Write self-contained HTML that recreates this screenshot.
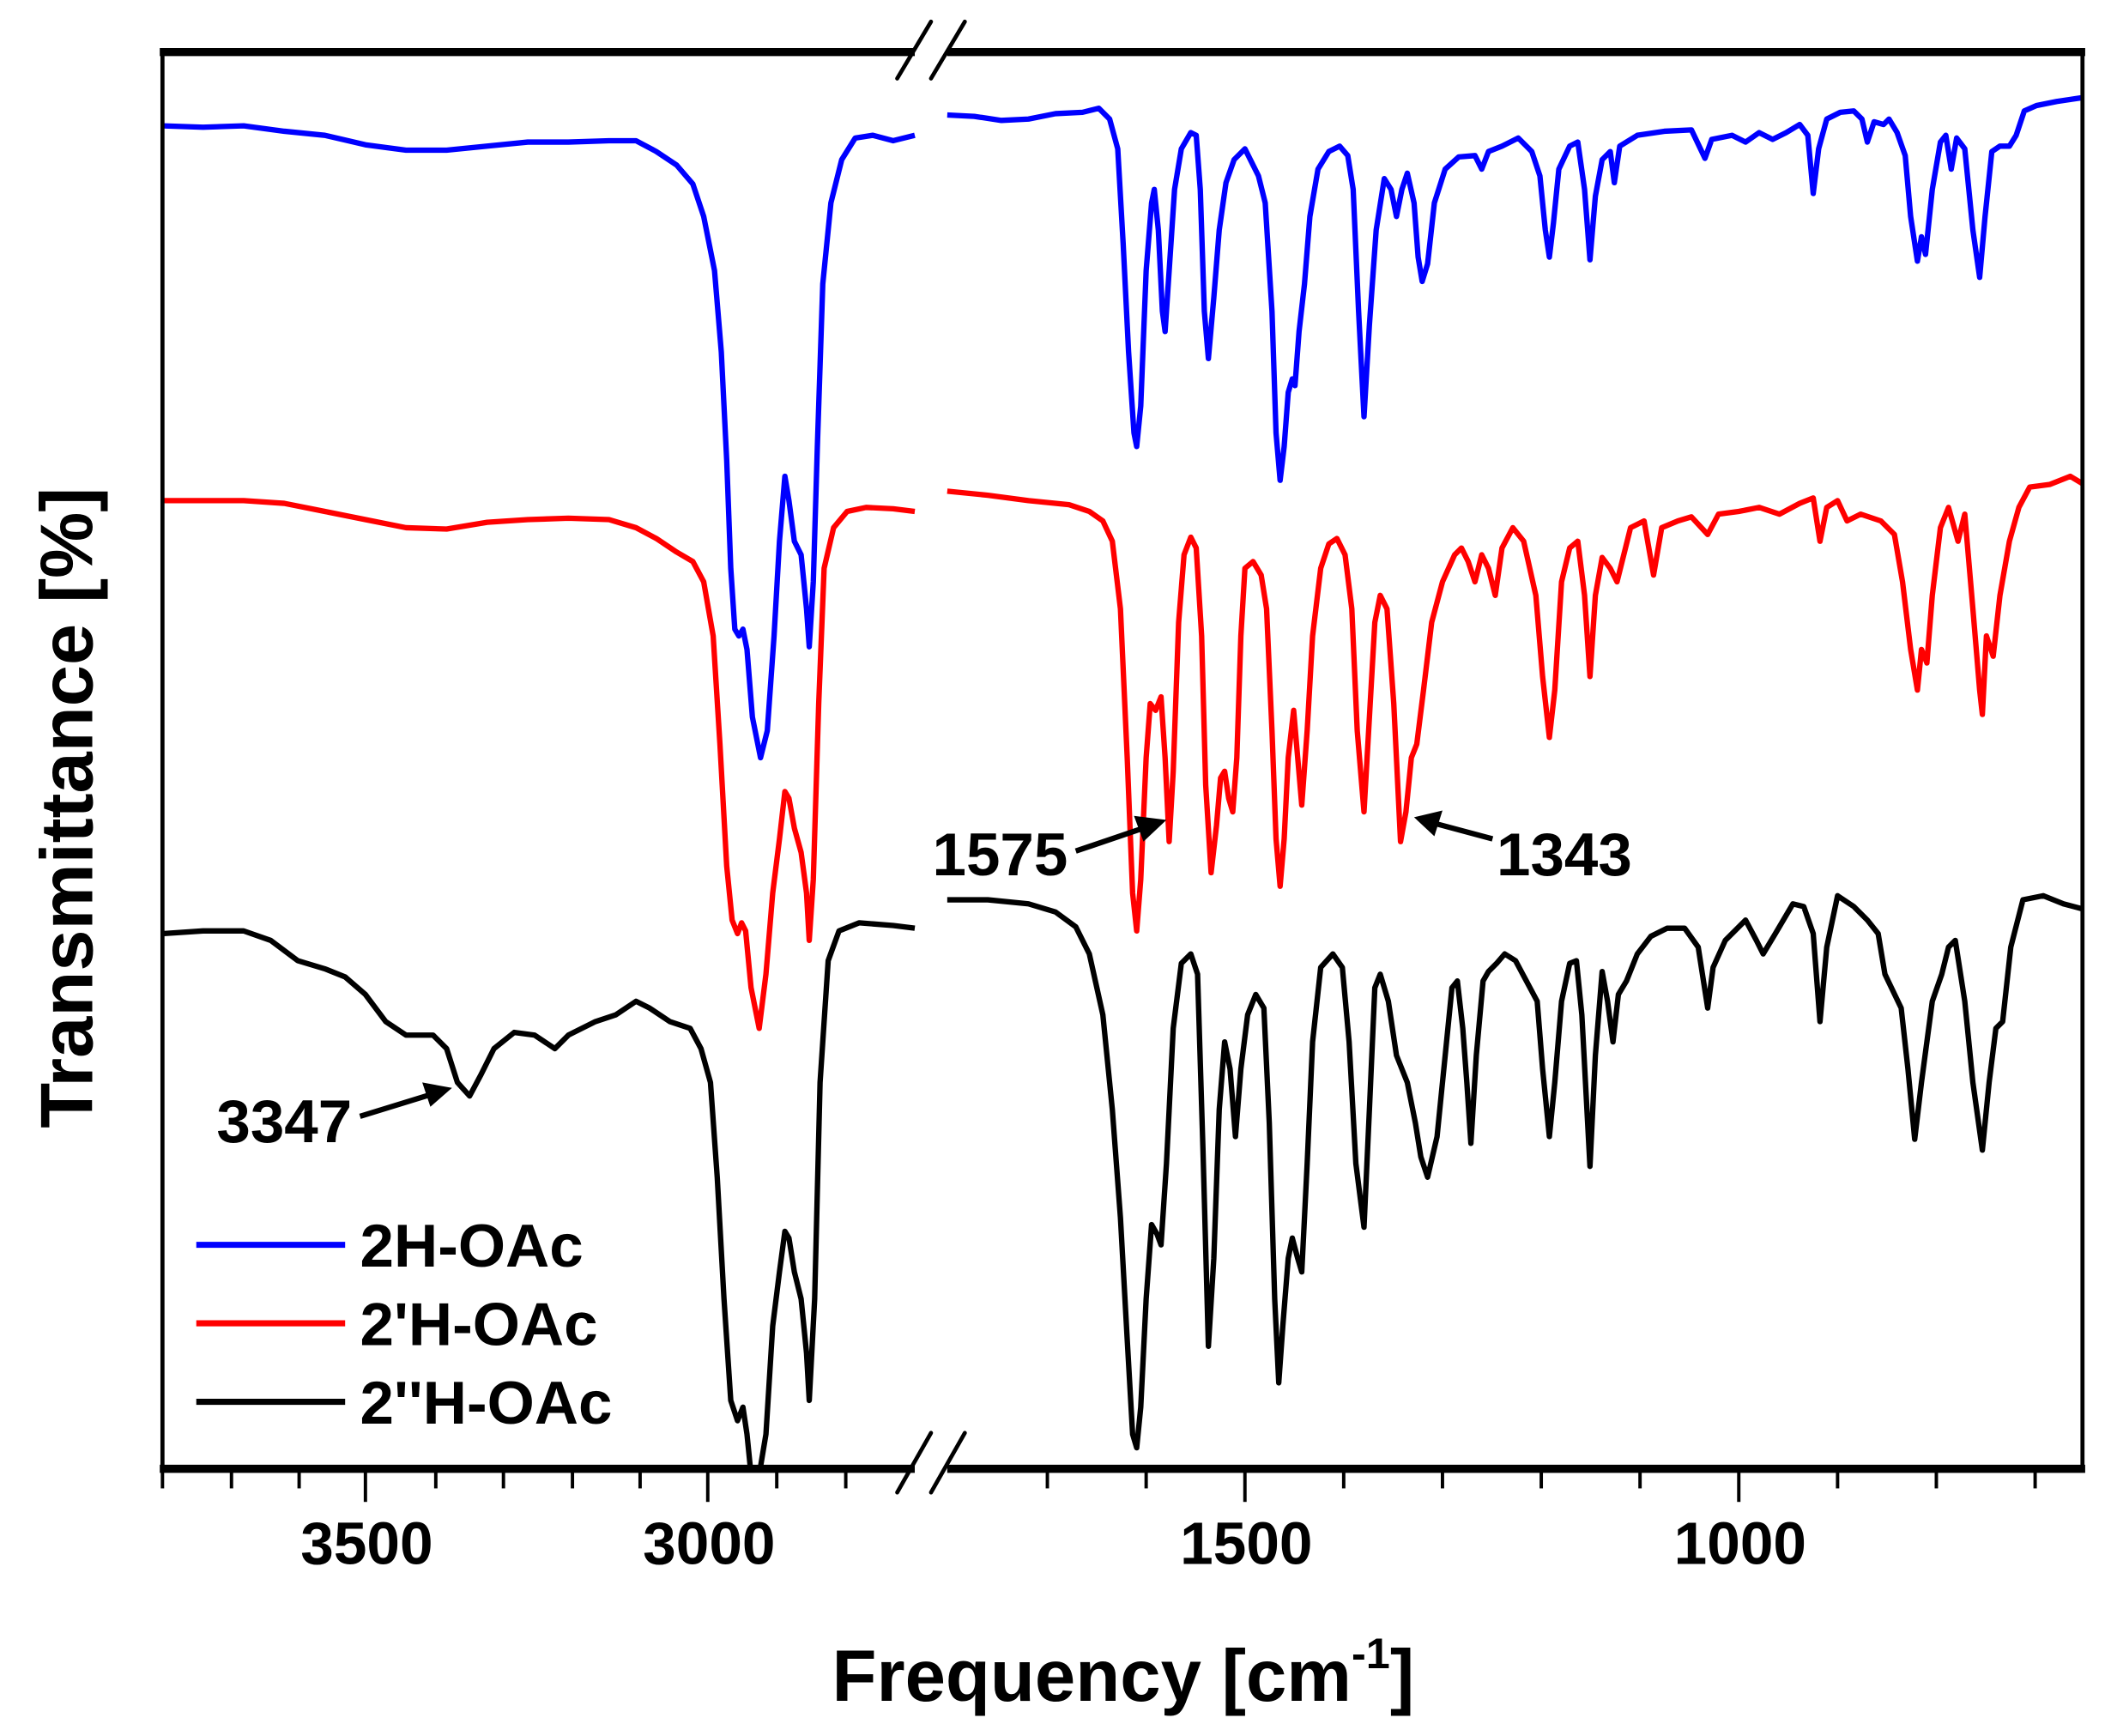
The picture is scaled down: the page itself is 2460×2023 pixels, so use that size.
<!DOCTYPE html>
<html><head><style>
html,body{margin:0;padding:0;background:#fff;}
svg{display:block;}
text{font-family:"Liberation Sans",Arial,sans-serif;font-weight:bold;fill:#000;}
</style></head><body>
<svg width="2460" height="2023" viewBox="0 0 1560 1283" xmlns="http://www.w3.org/2000/svg">
<defs><clipPath id="c"><rect x="120" y="37" width="1420" height="1050"/></clipPath></defs>
<g clip-path="url(#c)" fill="none" stroke-width="4" stroke-linejoin="round">
<polyline stroke="#0000ff" points="120,93 150,94 180,93 210,97 240,100 270,107 300,111 330,111 360,108 390,105 420,105 450,104 470,104 485,112 500,122 512,136 520,160 528,200 533,260 537,340 540,420 543,465 546,470 549,465 552,480 556,530 562,560 567,540 572,470 576,400 580,352 583,370 587,400 592,410 596,450 598,478 601,430 604,330 608,210 614,150 622,118 632,102 645,100 660,104 676,100"/>
<polyline stroke="#0000ff" points="700,85 720,86 740,89 760,88 780,84 800,83 812,80 820,88 826,110 830,180 834,260 838,320 840,330 843,300 847,200 851,150 853,140 856,170 859,230 861,245 864,200 868,140 873,110 880,98 884,100 887,140 890,230 893,265 897,220 901,170 906,135 912,118 920,110 925,120 930,130 935,150 940,230 943,320 946,355 949,330 952,290 955,280 957,285 960,245 964,210 968,160 974,125 982,112 990,108 996,115 1000,140 1004,230 1008,308 1012,240 1017,170 1023,132 1028,140 1032,160 1036,140 1040,128 1045,150 1048,190 1051,208 1055,195 1060,150 1068,125 1078,116 1090,115 1095,125 1100,112 1110,108 1122,102 1132,112 1138,130 1142,170 1145,190 1148,165 1152,125 1160,108 1166,105 1171,140 1175,192 1179,145 1184,118 1190,112 1193,135 1197,108 1210,100 1230,97 1250,96 1260,117 1265,103 1280,100 1290,105 1300,98 1310,103 1320,98 1330,92 1336,100 1340,143 1344,110 1350,88 1360,83 1370,82 1376,88 1380,105 1385,90 1392,92 1396,88 1402,98 1408,115 1412,160 1417,193 1420,175 1423,188 1428,140 1434,105 1438,100 1442,125 1446,102 1452,110 1458,170 1463,205 1467,160 1472,112 1478,108 1485,108 1490,100 1496,82 1505,78 1520,75 1540,72"/>
<polyline stroke="#ff0000" points="120,370 150,370 180,370 210,372 240,378 270,384 300,390 330,391 360,386 390,384 420,383 450,384 470,390 485,398 500,408 512,415 520,430 527,470 532,550 537,640 541,680 545,690 548,682 551,688 555,730 561,760 566,720 571,660 576,620 580,585 583,590 587,612 592,630 596,660 598,695 601,650 605,520 609,420 616,390 626,378 640,375 660,376 676,378"/>
<polyline stroke="#ff0000" points="700,363 730,366 760,370 790,373 805,378 815,385 822,400 828,450 833,560 837,660 840,688 843,650 847,560 850,520 854,525 858,515 861,560 864,622 867,570 871,460 875,410 880,397 884,405 888,470 891,580 895,645 899,610 902,575 905,570 908,590 911,600 914,560 917,470 920,420 926,415 932,425 936,450 940,540 943,620 946,655 949,620 952,560 956,525 959,560 962,595 966,540 970,470 976,420 982,402 988,398 994,410 999,450 1003,540 1008,600 1012,530 1016,460 1020,440 1025,450 1030,520 1035,622 1039,600 1043,560 1047,550 1052,510 1058,460 1066,430 1075,410 1080,405 1085,415 1090,430 1095,410 1100,420 1105,440 1110,405 1118,390 1126,400 1135,440 1140,500 1145,545 1149,510 1154,430 1160,405 1166,400 1171,440 1175,500 1179,440 1184,412 1190,420 1195,430 1205,390 1215,385 1222,425 1228,390 1240,385 1250,382 1262,395 1270,380 1285,378 1300,375 1315,380 1330,372 1340,368 1345,400 1350,375 1358,370 1365,385 1375,380 1390,385 1400,395 1406,430 1412,480 1417,510 1420,480 1424,490 1428,440 1434,390 1440,375 1447,400 1452,380 1458,450 1463,510 1465,528 1468,470 1473,485 1478,440 1485,400 1492,375 1500,360 1515,358 1530,352 1540,358"/>
<polyline stroke="#000" points="120,690 150,688 180,688 200,695 220,710 240,716 255,722 270,735 285,755 300,765 320,765 330,775 338,800 347,810 355,795 365,775 380,763 395,765 410,775 420,765 440,755 455,750 470,740 480,745 495,755 510,760 518,775 525,800 530,870 535,960 540,1035 545,1050 549,1040 552,1060 556,1100 561,1090 566,1060 571,980 576,940 580,910 583,915 587,940 592,960 596,1000 598,1035 602,960 606,800 612,710 620,688 635,682 660,684 676,686"/>
<polyline stroke="#000" points="700,665 730,665 760,668 780,674 795,685 805,705 815,750 822,820 828,900 833,990 837,1060 840,1070 843,1040 847,960 851,905 855,912 858,920 862,860 867,760 873,712 880,705 885,720 889,850 893,995 897,930 901,820 905,770 909,790 913,840 917,790 922,750 928,735 934,745 938,830 942,960 945,1022 948,980 952,930 955,915 959,930 962,940 966,860 970,770 976,715 985,705 992,715 997,770 1002,860 1008,907 1012,820 1016,730 1020,720 1026,740 1032,780 1040,800 1046,830 1050,855 1055,870 1062,840 1068,780 1073,730 1077,725 1081,760 1084,800 1087,845 1091,780 1096,725 1100,718 1106,712 1112,705 1120,710 1128,725 1136,740 1140,790 1145,840 1149,800 1154,740 1160,712 1165,710 1169,750 1175,862 1179,780 1184,718 1188,740 1192,770 1196,735 1202,725 1210,705 1220,692 1232,686 1245,686 1255,700 1262,745 1266,715 1275,695 1290,680 1298,695 1303,705 1312,690 1325,668 1333,670 1340,690 1345,755 1350,700 1358,662 1370,670 1380,680 1388,690 1393,720 1405,745 1410,790 1415,842 1420,800 1428,740 1435,720 1440,700 1445,695 1452,740 1458,800 1465,850 1470,800 1475,760 1480,755 1486,700 1495,665 1510,662 1525,668 1540,672"/>
</g>
<g stroke="#000" fill="none">
<line x1="120" y1="37" x2="120" y2="1087" stroke-width="3"/>
<line x1="1539" y1="37" x2="1539" y2="1087" stroke-width="3"/>
<line x1="118" y1="38.5" x2="1541" y2="38.5" stroke-width="6"/>
<line x1="118" y1="1085.5" x2="1541" y2="1085.5" stroke-width="6"/>
</g>
<rect x="676" y="30" width="24" height="14" fill="#fff"/>
<rect x="676" y="1079" width="24" height="14" fill="#fff"/>
<g stroke="#000" stroke-width="3" stroke-linecap="round">
<line x1="663" y1="58" x2="688" y2="16"/><line x1="688" y1="58" x2="713" y2="16"/>
<line x1="663" y1="1103" x2="688" y2="1059"/><line x1="688" y1="1103" x2="713" y2="1059"/>
</g>
<g stroke="#000" stroke-width="2.5">
<line x1="120" y1="1088" x2="120" y2="1100"/><line x1="171" y1="1088" x2="171" y2="1100"/><line x1="221" y1="1088" x2="221" y2="1100"/>
<line x1="270" y1="1088" x2="270" y2="1110"/><line x1="322" y1="1088" x2="322" y2="1100"/><line x1="372" y1="1088" x2="372" y2="1100"/>
<line x1="423" y1="1088" x2="423" y2="1100"/><line x1="473" y1="1088" x2="473" y2="1100"/><line x1="523" y1="1088" x2="523" y2="1110"/>
<line x1="574" y1="1088" x2="574" y2="1100"/><line x1="625" y1="1088" x2="625" y2="1100"/>
<line x1="774" y1="1088" x2="774" y2="1100"/><line x1="847" y1="1088" x2="847" y2="1100"/><line x1="920" y1="1088" x2="920" y2="1110"/>
<line x1="993" y1="1088" x2="993" y2="1100"/><line x1="1066" y1="1088" x2="1066" y2="1100"/><line x1="1139" y1="1088" x2="1139" y2="1100"/>
<line x1="1212" y1="1088" x2="1212" y2="1100"/><line x1="1285" y1="1088" x2="1285" y2="1110"/><line x1="1358" y1="1088" x2="1358" y2="1100"/>
<line x1="1431" y1="1088" x2="1431" y2="1100"/><line x1="1504" y1="1088" x2="1504" y2="1100"/>
</g>
<g font-size="44" text-anchor="middle">
<text x="271" y="1156">3500</text><text x="524" y="1156">3000</text>
<text x="921" y="1156">1500</text><text x="1286" y="1156">1000</text>
</g>
<text x="830" y="1257" font-size="54" text-anchor="middle">Frequency [cm<tspan font-size="32" dy="-24">-1</tspan><tspan dy="24">]</tspan></text>
<text transform="translate(68,597) rotate(-90)" font-size="55" text-anchor="middle">Transmittance [%]</text>
<g stroke-width="4.5">
<line x1="145" y1="920" x2="255" y2="920" stroke="#0000ff"/>
<line x1="145" y1="978" x2="255" y2="978" stroke="#ff0000"/>
<line x1="145" y1="1036" x2="255" y2="1036" stroke="#000"/>
</g>
<g font-size="45">
<text x="266" y="936">2H-OAc</text><text x="266" y="994">2'H-OAc</text><text x="266" y="1052">2''H-OAc</text>
</g>
<g font-size="45">
<text x="160" y="844">3347</text><text x="689" y="647">1575</text><text x="1106" y="647">1343</text>
</g>
<g stroke="#000" stroke-width="4">
<line x1="266" y1="825" x2="318" y2="809"/>
<line x1="795" y1="629" x2="845" y2="612"/>
<line x1="1103" y1="620" x2="1062" y2="609"/>
</g>
<g fill="#000">
<polygon points="334,804 312,800 318,818"/>
<polygon points="862,606 838,603 845,622"/>
<polygon points="1045,604 1066,599 1060,618"/>
</g>
</svg>
</body></html>
